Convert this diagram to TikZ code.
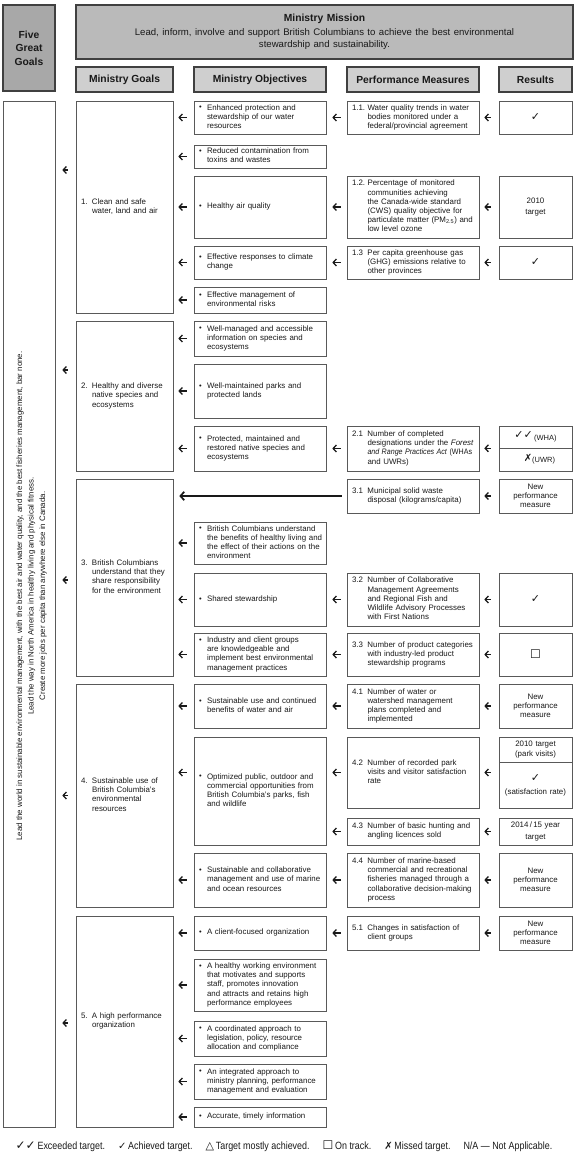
\documentclass[tikz,border=0pt]{standalone}
\usepackage{fontspec}
\setmainfont{Liberation Sans}
\newfontfamily\symf{DejaVu Sans}
\newfontfamily\narrowf[FakeStretch=0.85]{Liberation Sans}
\usetikzlibrary{arrows.meta}
\newcommand\T[1]{\begin{tabular}{@{}l@{}}#1\end{tabular}}
\newcommand\Bul{\makebox[8pt][l]{\raisebox{0.2pt}{\scalebox{0.95}{\textbullet}}}}
\newcommand\Bin{\hspace*{8pt}}
\newcommand\Nlab[1]{\makebox[15.5pt][l]{#1}}
\newcommand\Nin{\hspace*{15.5pt}}
\newcommand\Glab[1]{\makebox[11pt][l]{#1}}
\newcommand\Gin{\hspace*{11pt}}
\newcommand\nd[6]{\node[#1,minimum height={#4-#3}] (#5) at (#2,{(#3+#4)/2}) {#6};}
\newcommand\ck{{\symf\fontsize{11}{11}\selectfont ✓}}
\newcommand\npm{New\\performance\\measure}
\newcommand\arrO[2]{\draw[sarr,shorten <=7pt,shorten >=5pt] (#1.west) -- (#1.west -| #2.east);}
\newcommand\arrP[2]{\draw[sarr,shorten <=6pt,shorten >=6pt] (#1.west) -- (#1.west -| #2.east);}
\newcommand\arrR[2]{\draw[sarr,shorten <=8pt,shorten >=5pt] (#1.west) -- (#1.west -| #2.east);}
\tikzset{
  base/.style={draw=black!65, line width=0.6pt, inner xsep=5pt, inner ysep=0pt,
    font=\fontsize{7.9}{9.2}\selectfont, text=black!90},
  goalbox/.style={base, minimum width=97pt, text width=87pt, align=left},
  objbox/.style={base, minimum width=132pt, text width=122pt, align=left},
  pmbox/.style={base, minimum width=132pt, text width=122pt, align=left},
  resbox/.style={base, minimum width=73pt, text width=63pt, align=center},
  head/.style={draw=black!75, line width=1.1pt, fill=black!19, text=black!90,
    font=\bfseries\fontsize{10.3}{13.5}\selectfont, align=center, inner sep=0pt},
  sarr/.style={-{Straight Barb[length=3.2pt,width=7pt]}, line width=1.3pt, black!90},
  larr/.style={-{Straight Barb[length=3.8pt,width=8.5pt]}, line width=1.7pt, black!90},
}
\begin{document}
\begin{tikzpicture}[x=1pt,y=-1pt]
\useasboundingbox (0,0) rectangle (575,1158);
% header
\node[head, fill=black!34, minimum width=52pt, minimum height=86pt] (fgg) at (29,48) {Five\\Great\\Goals};
\node[head, fill=black!27, minimum width=497pt, minimum height=54pt, text width=490pt] (mm) at (324.5,32)
  {{\bfseries\fontsize{10.3}{13}\selectfont Ministry Mission\par}\vspace{1.5pt}%
   {\mdseries\fontsize{9.6}{12}\selectfont Lead, inform, involve and support British Columbians to achieve the best environmental\\ stewardship and sustainability.\par}};
\node[head, minimum width=97pt, minimum height=25pt] (hg) at (124.5,79.5) {Ministry Goals};
\node[head, minimum width=132pt, minimum height=25pt] (ho) at (260,79.5) {Ministry Objectives};
\node[head, minimum width=132pt, minimum height=25pt] (hp) at (413,79.5) {Performance Measures};
\node[head, minimum width=73pt, minimum height=25pt] (hr) at (535.5,79.5) {Results};
% left column
\node[base, minimum width=52pt, minimum height=1026pt] (L) at (29,614) {};
\node[font=\fontsize{7.9}{11.5}\selectfont, text=black!90, rotate=90, align=center] (lt) at (31.5,596)
  {Lead the world in sustainable environmental management, with the best air and water quality, and the best fisheries management, bar none.\\
   Lead the way in North America in healthy living and physical fitness.\\
   Create more jobs per capita than anywhere else in Canada.};
% goal 1
\nd{goalbox}{124.5}{101}{313}{g1}{\T{\Glab{1.}Clean and safe\\\Gin water, land and air}}
\nd{objbox}{260}{101}{134}{o11}{\T{\Bul Enhanced protection and\\\Bin stewardship of our water\\\Bin resources}}
\nd{objbox}{260}{145}{168}{o12}{\T{\Bul Reduced contamination from\\\Bin toxins and wastes}}
\nd{objbox}{260}{176}{238}{o13}{\T{\Bul Healthy air quality}}
\nd{objbox}{260}{246}{279}{o14}{\T{\Bul Effective responses to climate\\\Bin change}}
\nd{objbox}{260}{287}{313}{o15}{\T{\Bul Effective management of\\\Bin environmental risks}}
\nd{pmbox}{413}{101}{134}{p11}{\T{\Nlab{1.1.}Water quality trends in water\\\Nin bodies monitored under a\\\Nin federal/provincial agreement}}
\nd{pmbox}{413}{176}{238}{p12}{\T{\Nlab{1.2.}Percentage of monitored\\\Nin communities achieving\\\Nin the Canada-wide standard\\\Nin (CWS) quality objective for\\\Nin particulate matter (PM\textsubscript{2.5}) and\\\Nin low level ozone}}
\nd{pmbox}{413}{246}{279}{p13}{\T{\Nlab{1.3}Per capita greenhouse gas\\\Nin (GHG) emissions relative to\\\Nin other provinces}}
\nd{resbox}{535.5}{101}{134}{r11}{\ck}
\nd{resbox}{535.5}{176}{238}{r12}{2010\\[2pt]target}
\nd{resbox}{535.5}{246}{279}{r13}{\ck}
% goal 2
\nd{goalbox}{124.5}{321}{471}{g2}{\T{\Glab{2.}Healthy and diverse\\\Gin native species and\\\Gin ecosystems}}
\nd{objbox}{260}{321}{356}{o21}{\T{\Bul Well-managed and accessible\\\Bin information on species and\\\Bin ecosystems}}
\nd{objbox}{260}{364}{418}{o22}{\T{\Bul Well-maintained parks and\\\Bin protected lands}}
\nd{objbox}{260}{426}{471}{o23}{\T{\Bul Protected, maintained and\\\Bin restored native species and\\\Bin ecosystems}}
\nd{pmbox}{413}{426}{471}{p21}{\T{\Nlab{2.1}Number of completed\\\Nin designations under the \textit{Forest}\\\Nin \scalebox{0.9}[1]{\textit{and Range Practices Act} (WHAs}\\\Nin and UWRs)}}
\nd{resbox}{535.5}{426}{448}{r21a}{{\symf\fontsize{11}{11}\selectfont ✓✓}\,\raisebox{-2pt}{\fontsize{7.5}{9}\selectfont (WHA)}}
\nd{resbox}{535.5}{448}{471}{r21b}{\hspace*{8pt}{\symf\fontsize{10}{10}\selectfont ✗}\raisebox{-1pt}{\fontsize{7.5}{9}\selectfont (UWR)}}
% goal 3
\nd{goalbox}{124.5}{479}{676}{g3}{\T{\Glab{3.}British Columbians\\\Gin understand that they\\\Gin share responsibility\\\Gin for the environment}}
\nd{objbox}{260}{522}{564}{o31}{\T{\Bul British Columbians understand\\\Bin the benefits of healthy living and\\\Bin the effect of their actions on the\\\Bin environment}}
\nd{objbox}{260}{573}{626}{o32}{\T{\Bul Shared stewardship}}
\nd{objbox}{260}{633}{676}{o33}{\T{\Bul Industry and client groups\\\Bin are knowledgeable and\\\Bin implement best environmental\\\Bin management practices}}
\nd{pmbox}{413}{479}{513}{p31}{\T{\Nlab{3.1}Municipal solid waste\\\Nin disposal (kilograms/capita)}}
\nd{pmbox}{413}{573}{626}{p32}{\T{\Nlab{3.2}Number of Collaborative\\\Nin Management Agreements\\\Nin and Regional Fish and\\\Nin Wildlife Advisory Processes\\\Nin with First Nations}}
\nd{pmbox}{413}{633}{676}{p33}{\T{\Nlab{3.3}Number of product categories\\\Nin with industry-led product\\\Nin stewardship programs}}
\nd{resbox}{535.5}{479}{513}{r31}{\npm}
\nd{resbox}{535.5}{573}{626}{r32}{\ck}
\nd{resbox}{535.5}{633}{676}{r33}{{\symf\fontsize{12}{12}\selectfont ☐}}
% goal 4
\nd{goalbox}{124.5}{684}{907}{g4}{\T{\Glab{4.}Sustainable use of\\\Gin British Columbia's\\\Gin environmental\\\Gin resources}}
\nd{objbox}{260}{684}{728}{o41}{\T{\Bul Sustainable use and continued\\\Bin benefits of water and air}}
\nd{objbox}{260}{737}{845}{o42}{\T{\Bul Optimized public, outdoor and\\\Bin commercial opportunities from\\\Bin British Columbia's parks, fish\\\Bin and wildlife}}
\nd{objbox}{260}{853}{907}{o43}{\T{\Bul Sustainable and collaborative\\\Bin management and use of marine\\\Bin and ocean resources}}
\nd{pmbox}{413}{684}{728}{p41}{\T{\Nlab{4.1}Number of water or\\\Nin watershed management\\\Nin plans completed and\\\Nin implemented}}
\nd{pmbox}{413}{737}{808}{p42}{\T{\Nlab{4.2}Number of recorded park\\\Nin visits and visitor satisfaction\\\Nin rate}}
\nd{pmbox}{413}{818}{845}{p43}{\T{\Nlab{4.3}Number of basic hunting and\\\Nin angling licences sold}}
\nd{pmbox}{413}{853}{907}{p44}{\T{\Nlab{4.4}Number of marine-based\\\Nin commercial and recreational\\\Nin fisheries managed through a\\\Nin collaborative decision-making\\\Nin process}}
\nd{resbox}{535.5}{684}{728}{r41}{\npm}
\nd{resbox}{535.5}{737}{762}{r42a}{2010 target\\(park visits)}
\nd{resbox}{535.5}{762}{808}{r42b}{\ck\\[4pt](satisfaction rate)}
\nd{resbox}{535.5}{818}{845}{r43}{2014\,/\,15 year\\[2pt]target}
\nd{resbox}{535.5}{853}{907}{r44}{\npm}
% goal 5
\nd{goalbox}{124.5}{916}{1127}{g5}{\T{\Glab{5.}A high performance\\\Gin organization}}
\nd{objbox}{260}{916}{950}{o51}{\T{\Bul A client-focused organization}}
\nd{objbox}{260}{959}{1011}{o52}{\T{\Bul A healthy working environment\\\Bin that motivates and supports\\\Bin staff, promotes innovation\\\Bin and attracts and retains high\\\Bin performance employees}}
\nd{objbox}{260}{1021}{1056}{o53}{\T{\Bul A coordinated approach to\\\Bin legislation, policy, resource\\\Bin allocation and compliance}}
\nd{objbox}{260}{1064}{1099}{o54}{\T{\Bul An integrated approach to\\\Bin ministry planning, performance\\\Bin management and evaluation}}
\nd{objbox}{260}{1107}{1127}{o55}{\T{\Bul Accurate, timely information}}
\nd{pmbox}{413}{916}{950}{p51}{\T{\Nlab{5.1}Changes in satisfaction of\\\Nin client groups}}
\nd{resbox}{535.5}{916}{950}{r51}{\npm}
% goal arrows
\coordinate (ga1) at ([yshift=37pt]g1.west);
\coordinate (ga2) at ([yshift=26pt]g2.west);
\coordinate (ga3) at ([yshift=-2.5pt]g3.west);
\coordinate (ga4) at (g4.west);
\coordinate (ga5) at ([yshift=-1.5pt]g5.west);
\foreach \a in {ga1,ga2,ga3,ga4,ga5}
  \draw[sarr,shorten <=8pt,shorten >=7pt] (\a) -- (\a -| L.east);
% objective arrows
\arrO{o11}{g1}\arrO{o12}{g1}\arrO{o13}{g1}\arrO{o14}{g1}\arrO{o15}{g1}
\arrO{o21}{g2}\arrO{o22}{g2}\arrO{o23}{g2}
\arrO{o31}{g3}\arrO{o32}{g3}\arrO{o33}{g3}
\arrO{o41}{g4}\arrO{o43}{g4}
\coordinate (a42) at (p42.west -| o42.west);
\draw[sarr,shorten <=7pt,shorten >=5pt] (a42) -- (a42 -| g4.east);
\arrO{o51}{g5}\arrO{o52}{g5}\arrO{o53}{g5}\arrO{o54}{g5}\arrO{o55}{g5}
% measure arrows
\arrP{p11}{o11}\arrP{p12}{o13}\arrP{p13}{o14}\arrP{p21}{o23}
\arrP{p32}{o32}\arrP{p33}{o33}
\arrP{p41}{o41}\arrP{p42}{o42}\arrP{p43}{o42}\arrP{p44}{o43}\arrP{p51}{o51}
\draw[larr,shorten <=5pt,shorten >=6pt] (p31.west) -- (p31.west -| g3.east);
% result arrows
\arrR{r11}{p11}\arrR{r12}{p12}\arrR{r13}{p13}\arrR{r31}{p31}\arrR{r32}{p32}\arrR{r33}{p33}
\arrR{r41}{p41}\arrR{r43}{p43}\arrR{r44}{p44}\arrR{r51}{p51}
\draw[sarr,shorten <=8pt,shorten >=5pt] (r21a.south west) -- (r21a.south west -| p21.east);
\coordinate (b42) at (p42.east -| r42b.west);
\draw[sarr,shorten <=8pt,shorten >=5pt] (b42) -- (p42.east);
% legend
\node[anchor=base, font=\narrowf\fontsize{10.5}{12}\selectfont, text=black!90, inner sep=0pt] (leg) at (284,1149)
  {{\symf\fontsize{12}{12}\selectfont ✓✓}\,Exceeded target.\hspace{13pt}{\symf\fontsize{10}{10}\selectfont ✓}\,Achieved target.\hspace{13pt}{\symf\fontsize{11}{11}\selectfont △}\,Target mostly achieved.\hspace{13pt}{\symf\fontsize{12}{12}\selectfont ☐}\,On track.\hspace{13pt}{\symf\fontsize{10}{10}\selectfont ✗}\,Missed target.\hspace{13pt}N/A — Not Applicable.};
\end{tikzpicture}
\end{document}
